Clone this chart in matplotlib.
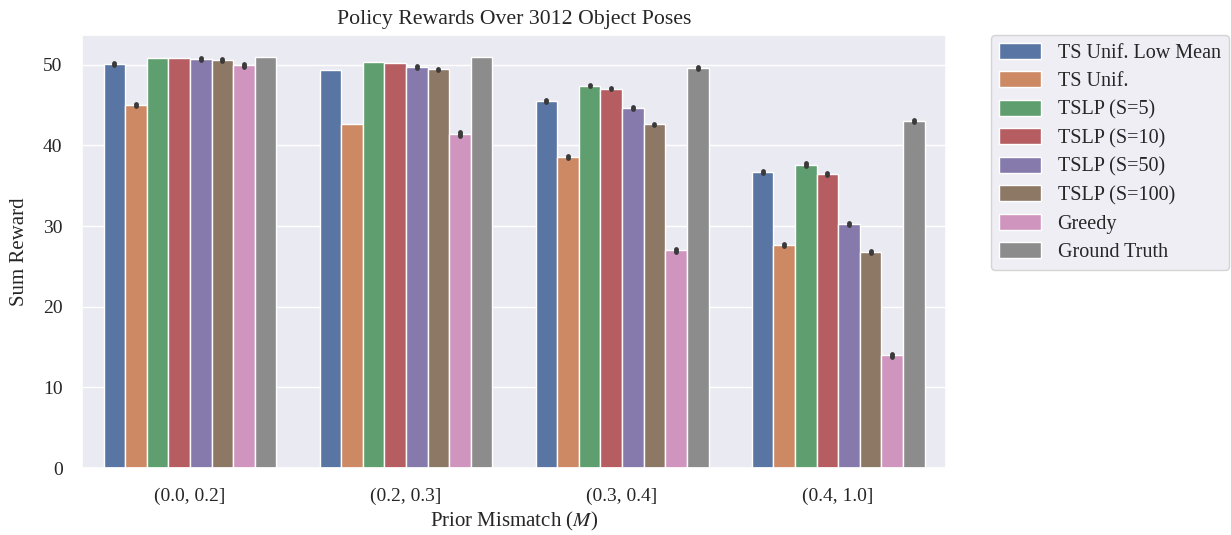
import numpy as np
import matplotlib
matplotlib.use("Agg")
import matplotlib.pyplot as plt
import seaborn as sns

categories = ["(0.0, 0.2]", "(0.2, 0.3]", "(0.3, 0.4]", "(0.4, 1.0]"]
methods = ["TS Unif. Low Mean", "TS Unif.", "TSLP (S=5)", "TSLP (S=10)",
           "TSLP (S=50)", "TSLP (S=100)", "Greedy", "Ground Truth"]

ts_unif_low_mean = [50.1, 49.3, 45.5, 36.7]
ts_unif = [45.0, 42.6, 38.5, 27.7]
tslp_s5 = [50.8, 50.3, 47.4, 37.6]
tslp_s10 = [50.8, 50.2, 47.0, 36.5]
tslp_s50 = [50.7, 49.7, 44.6, 30.3]
tslp_s100 = [50.6, 49.4, 42.6, 26.8]
greedy = [49.9, 41.4, 27.0, 14.0]
ground_truth = [50.95, 50.9, 49.6, 43.0]

# half-width of the 95% confidence interval for each bar
ci_low_mean = [0.12, 0.0, 0.1, 0.12]
ci_unif = [0.12, 0.0, 0.12, 0.12]
ci_s5 = [0.0, 0.0, 0.1, 0.18]
ci_s10 = [0.0, 0.0, 0.08, 0.12]
ci_s50 = [0.1, 0.1, 0.12, 0.12]
ci_s100 = [0.1, 0.1, 0.1, 0.12]
ci_greedy = [0.18, 0.22, 0.18, 0.18]
ci_truth = [0.0, 0.0, 0.08, 0.12]

values = [ts_unif_low_mean, ts_unif, tslp_s5, tslp_s10,
          tslp_s50, tslp_s100, greedy, ground_truth]
errors = [ci_low_mean, ci_unif, ci_s5, ci_s10,
          ci_s50, ci_s100, ci_greedy, ci_truth]

sns.set_theme(style="darkgrid")
plt.rcParams["font.family"] = ["Liberation Serif", "DejaVu Serif"]
plt.rcParams["mathtext.fontset"] = "stix"

colors = sns.color_palette("deep", desat=0.75)

fig = plt.figure(figsize=(12.31, 5.35), dpi=100)
ax = fig.add_axes([0.0666, 0.125, 0.702, 0.81])

n = len(methods)
width = 0.8 / n
x = np.arange(len(categories))
for i, (name, vals, errs) in enumerate(zip(methods, values, errors)):
    pos = x - 0.4 + width * (i + 0.5)
    ax.bar(pos, vals, width, color=colors[i], edgecolor="white",
           linewidth=1.0, label=name)
    vals = np.asarray(vals)
    errs = np.asarray(errs)
    mask = errs > 0
    lc = ax.vlines(pos[mask], (vals - errs)[mask], (vals + errs)[mask],
                   color="#3a3a3a", linewidth=3.5)
    lc.set_capstyle("round")

ax.set_xlim(-0.5, len(categories) - 0.5)
ax.set_ylim(0, 53.7)
ax.set_yticks([0, 10, 20, 30, 40, 50])
ax.set_xticks(x)
ax.set_xticklabels(categories)
ax.tick_params(axis="both", labelsize=14, pad=8)
ax.set_xlabel("Prior Mismatch ($M$)", fontsize=15)
ax.set_ylabel("Sum Reward", fontsize=15, labelpad=10)
ax.set_title("Policy Rewards Over 3012 Object Poses", fontsize=15.7, pad=8)
ax.grid(axis="x", visible=False)

leg = ax.legend(loc="upper left", bbox_to_anchor=(1.052, 1.0), fontsize=14.5,
                frameon=True, handlelength=2.1, handleheight=0.85,
                handletextpad=0.8, borderaxespad=0.0, labelspacing=0.42)
leg.get_frame().set_edgecolor("#cccccc")

fig.savefig("out.png", dpi=100)
